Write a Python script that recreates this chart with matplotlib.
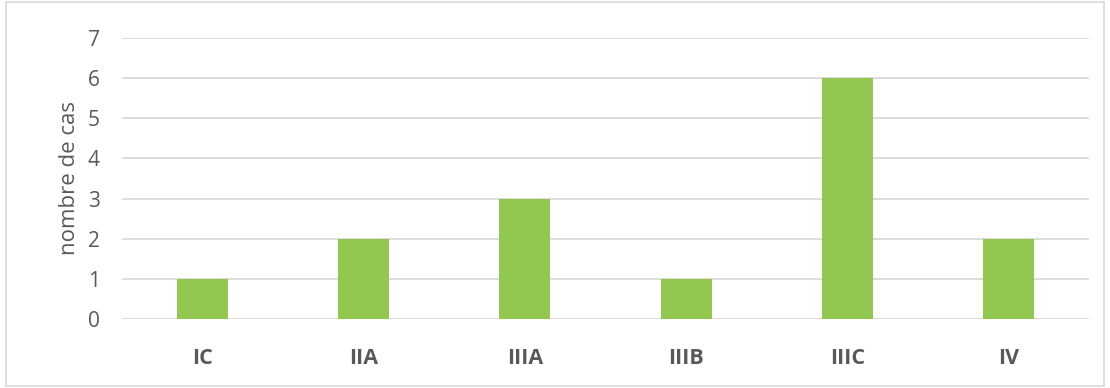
import matplotlib
matplotlib.use("Agg")
import matplotlib.pyplot as plt
from matplotlib.patches import Rectangle

categories = ["IC", "IIA", "IIIA", "IIIB", "IIIC", "IV"]
values = [1, 2, 3, 1, 6, 2]
yticks = [0, 1, 2, 3, 4, 5, 6, 7]

plt.rcParams['font.family'] = ['Open Sans', 'DejaVu Sans']

fig = plt.figure(figsize=(11.1, 3.88), dpi=100)
ax = fig.add_axes([0.110, 0.178, 0.871, 0.724])

x = range(len(categories))
ax.bar(x, values, width=0.316, color="#92C850", zorder=3)
ax.set_xlim(-0.5, len(categories) - 0.5)
ax.set_ylim(0, 7)
ax.set_yticks(yticks)
ax.set_yticklabels([str(t) for t in yticks], color="#595959", fontsize=15)
ax.set_xticks(list(x))
ax.set_xticklabels(categories, color="#595959", fontsize=15.5, fontweight="bold")
ax.tick_params(axis="both", length=0)
ax.tick_params(axis="y", pad=16)
ax.tick_params(axis="x", pad=21)
ax.grid(axis="y", color="#D9D9D9", linewidth=1.3, zorder=0)
for s in ax.spines.values():
    s.set_visible(False)
ax.set_ylabel("nombre de cas", color="#595959", fontsize=16, labelpad=6)

fig.patches.append(Rectangle((0.005, 0.005), 0.99, 0.99, transform=fig.transFigure,
                             fill=False, edgecolor="#D9D9D9", linewidth=1.2))

fig.savefig("out.png", dpi=100)
